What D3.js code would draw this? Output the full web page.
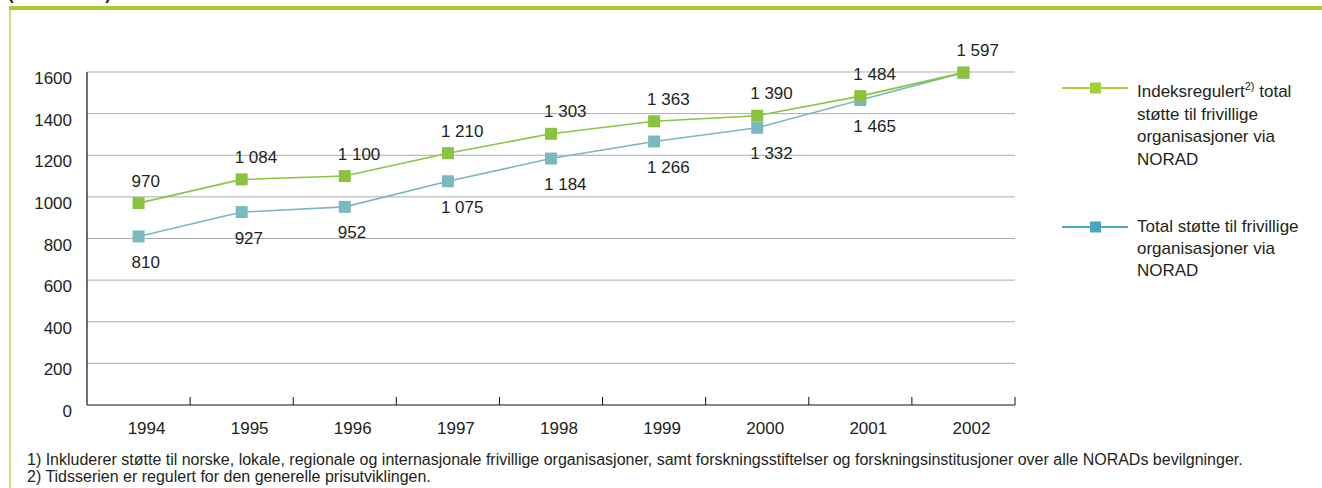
<!DOCTYPE html>
<html><head><meta charset="utf-8">
<script src="https://cdn.jsdelivr.net/npm/d3@7"></script>
<style>
html,body{margin:0;padding:0;background:#fff;}
svg{display:block;font-family:"Liberation Sans",Arial,Helvetica,sans-serif;}
</style></head>
<body>
<svg id="c" width="1322" height="488"></svg>
<script>
const years = ["1994","1995","1996","1997","1998","1999","2000","2001","2002"];
const indexed = [970,1084,1100,1210,1303,1363,1390,1484,1597];
const nominal = [810,927,952,1075,1184,1266,1332,1465,1597];
const nominalLabels = [true,true,true,true,true,true,true,true,false];
const yTicks = [0,200,400,600,800,1000,1200,1400,1600];
const legendIndexed = ["Indeksregulert", "2)", " total", "støtte til frivillige", "organisasjoner via", "NORAD"];
const legendNominal = ["Total støtte til frivillige", "organisasjoner via", "NORAD"];
const footnotes = [
 "1) Inkluderer støtte til norske, lokale, regionale og internasjonale frivillige organisasjoner, samt forskningsstiftelser og forskningsinstitusjoner over alle NORADs bevilgninger.",
 "2) Tidsserien er regulert for den generelle prisutviklingen."
];
const titleText = "(mill. kroner)";

const svg = d3.select("#c");
const fmt = v => { const s = String(v); return s.length > 3 ? s.slice(0, s.length-3) + " " + s.slice(-3) : s; };

const GREEN_LINE = "#8dc342", GREEN_MARK = "#8bc33e";
const BLUE_LINE = "#7ab8bf", BLUE_MARK = "#7ab9c0";
const TXT = "#231f20";

// frame
svg.append("text").attr("x", 8).attr("y", 0).attr("font-size", 17).attr("font-weight", "bold").attr("fill", TXT).text(titleText);
svg.append("rect").attr("x", 9).attr("y", 6).attr("width", 1313).attr("height", 4).attr("fill", "#a8ca34");
svg.append("rect").attr("x", 9).attr("y", 10).attr("width", 2).attr("height", 478).attr("fill", "#c5e07a");

const x = d3.scaleBand().domain(years).range([87, 1015]).padding(0);
const y = d3.scaleLinear().domain([0, 1600]).range([405, 72]);
const cx = d => x(d) + x.bandwidth()/2;

// gridlines
svg.append("g").selectAll("line").data(yTicks.filter(d => d > 0)).join("line")
  .attr("x1", 87).attr("x2", 1015).attr("y1", d => y(d)).attr("y2", d => y(d))
  .attr("stroke", "#ababab").attr("stroke-width", 1);

// y labels
svg.append("g").selectAll("text").data(yTicks).join("text")
  .attr("x", 72).attr("y", d => y(d) + 12).attr("text-anchor", "end")
  .attr("font-size", 17).attr("fill", TXT).text(d => d);

// axes lines
svg.append("line").attr("x1", 87).attr("x2", 87).attr("y1", y(1600)).attr("y2", y(0)).attr("stroke", "#111").attr("stroke-width", 1.2);
svg.append("line").attr("x1", 87).attr("x2", 1015).attr("y1", y(0)).attr("y2", y(0)).attr("stroke", "#111").attr("stroke-width", 1.2);
const bounds = years.slice(1).map(d => x(d)).concat([x.range()[1]]);
svg.append("g").selectAll("line").data(bounds).join("line")
  .attr("x1", d => d).attr("x2", d => d).attr("y1", y(0) - 8).attr("y2", y(0))
  .attr("stroke", "#111").attr("stroke-width", 1);
svg.append("g").selectAll("text").data(years).join("text")
  .attr("x", d => cx(d) + 8).attr("y", 434).attr("text-anchor", "middle")
  .attr("font-size", 17).attr("fill", TXT).text(d => d);

// series
function drawSeries(vals, lineColor, markColor) {
  const line = d3.line().x((d,i) => cx(years[i])).y(d => y(d));
  svg.append("path").datum(vals).attr("d", line).attr("fill", "none").attr("stroke", lineColor).attr("stroke-width", 1.6);
  svg.append("g").selectAll("rect").data(vals).join("rect")
    .attr("x", (d,i) => cx(years[i]) - 6).attr("y", d => y(d) - 6)
    .attr("width", 12).attr("height", 12).attr("fill", markColor);
}
drawSeries(nominal, BLUE_LINE, BLUE_MARK);
drawSeries(indexed, GREEN_LINE, GREEN_MARK);

// data labels
svg.append("g").selectAll("text").data(nominal.map((v,i)=>({v,i})).filter(d => nominalLabels[d.i])).join("text")
  .attr("x", d => cx(years[d.i]) - 7).attr("y", d => y(d.v) + 31.5)
  .attr("font-size", 17).attr("fill", TXT).text(d => fmt(d.v));
svg.append("g").selectAll("text").data(indexed).join("text")
  .attr("x", (d,i) => cx(years[i]) - 7).attr("y", d => y(d) - 16.5)
  .attr("font-size", 17).attr("fill", TXT).text(d => fmt(d));

// legend
function legendSym(yy, lineColor, markColor) {
  svg.append("line").attr("x1", 1062).attr("x2", 1128).attr("y1", yy).attr("y2", yy).attr("stroke", lineColor).attr("stroke-width", 2.2);
  svg.append("rect").attr("x", 1090).attr("y", yy - 5.5).attr("width", 11).attr("height", 11).attr("fill", markColor);
}
legendSym(88, "#a8cf38", "#a6ce39");
legendSym(227, "#4aa8c0", "#4aa6bf");

const t1 = svg.append("text").attr("x", 1137).attr("y", 97).attr("font-size", 17).attr("fill", TXT);
t1.append("tspan").text(legendIndexed[0]);
t1.append("tspan").attr("font-size", 11).attr("dy", -7).text(legendIndexed[1]);
t1.append("tspan").attr("dy", 7).text(legendIndexed[2]);
legendIndexed.slice(3).forEach((s, i) => {
  svg.append("text").attr("x", 1137).attr("y", 97 + 22.5*(i+1)).attr("font-size", 17).attr("fill", TXT).text(s);
});
legendNominal.forEach((s, i) => {
  svg.append("text").attr("x", 1137).attr("y", 232 + 22*i).attr("font-size", 17).attr("fill", TXT).text(s);
});

// footnotes
footnotes.forEach((s, i) => {
  svg.append("text").attr("x", 27).attr("y", 465 + 16.5*i).attr("font-size", 16).attr("fill", TXT).text(s);
});
</script>
</body></html>
